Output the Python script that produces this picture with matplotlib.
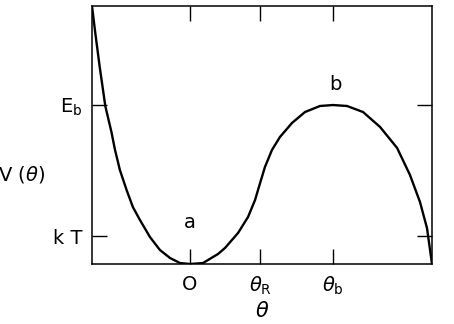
import matplotlib
matplotlib.use("Agg")
import matplotlib.pyplot as plt

# Curve V(theta) (theta_b = 1, E_b = 1 units)
theta = [-0.685, -0.662, -0.631, -0.592, -0.549, -0.524, -0.490, -0.443, -0.399,
         -0.350, -0.280, -0.210, -0.140, -0.070, 0.0, 0.091, 0.196, 0.245,
         0.336, 0.406, 0.455, 0.490, 0.524, 0.573, 0.629, 0.713, 0.804, 0.909,
         1.0, 1.098, 1.210, 1.329, 1.448, 1.538, 1.608, 1.657, 1.692]
V = [1.623, 1.453, 1.239, 0.994, 0.830, 0.717, 0.591, 0.465, 0.358,
     0.277, 0.170, 0.088, 0.038, 0.006, 0.0, 0.006, 0.063, 0.101,
     0.195, 0.296, 0.403, 0.509, 0.610, 0.717, 0.799, 0.887, 0.956, 0.994,
     1.0, 0.994, 0.956, 0.862, 0.730, 0.560, 0.390, 0.226, 0.0]

x_ticks = [0.0, 0.49, 1.0]
x_tick_labels = ["O", r"$\theta_\mathregular{R}$", r"$\theta_\mathregular{b}$"]
y_ticks = [0.176, 1.0]
y_tick_labels = ["k T", r"E$_\mathregular{b}$"]

plt.rcParams["font.family"] = ["DejaVu Sans"]
plt.rcParams["mathtext.fontset"] = "dejavusans"

fig = plt.figure(figsize=(4.54, 3.24), dpi=100)
ax = fig.add_axes([92/454, 60/324, 340/454, 258/324])
ax.plot(theta, V, color="black", lw=1.7, solid_capstyle="round", solid_joinstyle="round")
ax.set_xlim(-0.685, 1.692)
ax.set_ylim(0, 1.623)
for s in ax.spines.values():
    s.set_linewidth(1.1)

ax.set_xticks(x_ticks)
ax.set_xticklabels(x_tick_labels, fontsize=14)
ax.set_yticks(y_ticks)
ax.set_yticklabels(y_tick_labels, fontsize=14)
ax.tick_params(direction="in", length=11, width=1.0, top=True, right=True, pad=7)
ax.tick_params(axis="x", pad=8)

ax.text(0.0, 0.26, "a", fontsize=14, ha="center", va="center")
ax.text(1.02, 1.13, "b", fontsize=14, ha="center", va="center")

fig.text(22/454, 1 - 174/324, r"V ($\theta$)", fontsize=14, ha="center", va="center")
fig.text(262/454, 1 - 311/324, r"$\theta$", fontsize=15, ha="center", va="center")

fig.savefig("out.png", dpi=100)
